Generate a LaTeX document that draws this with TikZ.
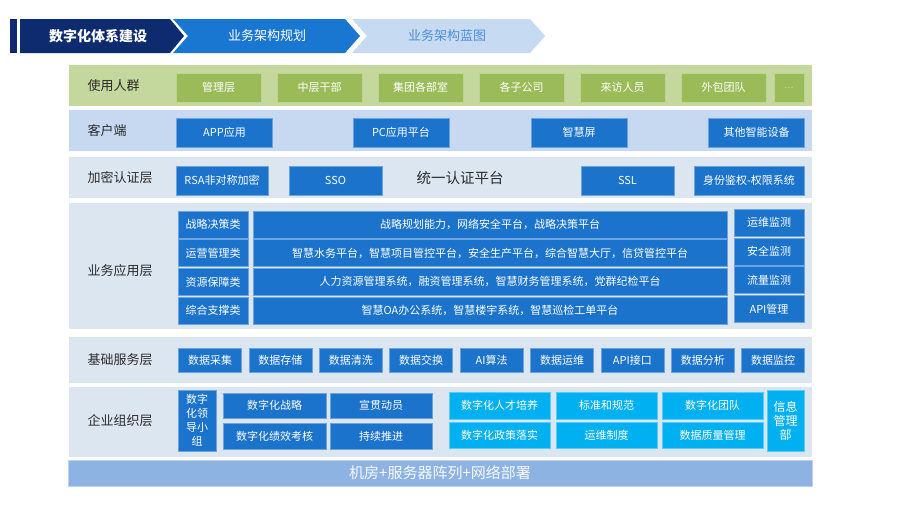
\documentclass[tikz,border=0pt]{standalone}
\usepackage{fontspec}
\setmainfont{Noto Sans CJK SC}
\definecolor{navy}{HTML}{0F2B6F}
\definecolor{stepblue}{HTML}{1A77D1}
\definecolor{steplight}{HTML}{C6DAF2}
\definecolor{steptext}{HTML}{4F8FD9}
\definecolor{cellblue}{HTML}{1B73CC}
\definecolor{cellgreen}{HTML}{9BBB59}
\definecolor{cellcyan}{HTML}{00B0F0}
\definecolor{panelgreen}{HTML}{C4D79C}
\definecolor{panelclient}{HTML}{C6D9F0}
\definecolor{panelgray}{HTML}{DCE6F1}
\definecolor{basebar}{HTML}{8DB3E2}
\definecolor{labeltext}{HTML}{2B2B2B}
\tikzset{
    layer panel/.style={fill=#1,inner sep=0pt,minimum width=743pt},
    layer label/.style={anchor=west,text=labeltext,font=\fontsize{13}{13}\selectfont},
    step text/.style={inner sep=0pt,font=\fontsize{13}{13}\selectfont},
    cell/.style={fill=#1,draw=#1!65!white,line width=0.6pt,text=white,inner sep=0pt,
        font=\fontsize{11}{11}\selectfont}
}

\begin{document}
\begin{tikzpicture}[x=1pt,y=-1pt]
\useasboundingbox[fill=white] (0,0) rectangle (900,506);

% ========= Steps =========
\fill[navy] (10,19) rectangle (17,53);
\fill[navy] (20,19) -- (170,19) -- (184,36) -- (170,53) -- (20,53) -- cycle;
\fill[stepblue] (173,19) -- (345,19) -- (360,36) -- (345,53) -- (173,53) -- (188,36) -- cycle;
\fill[steplight] (352,19) -- (530,19) -- (545,36) -- (530,53) -- (352,53) -- (367,36) -- cycle;
\node[step text,text=white,font=\fontsize{14}{14}\selectfont\bfseries] (S1) at (98,36) {数字化体系建设};
\node[step text,text=white] (S2) at (267,36) {业务架构规划};
\node[step text,text=steptext] (S3) at (447,36) {业务架构蓝图};

% ========= Layers =========
% == users ==%
\node[layer panel=panelgreen,minimum height=41pt] (users) at (440.5,85.5) {};
\node[layer label] (usersL) at (84,85.5) {使用人群};
\foreach \name [count=\i from 0] in {管理层,中层干部,集团各部室,各子公司,来访人员,外包团队}
{
    \node[cell=cellgreen,minimum width=85pt,minimum height=29pt] (U\i) at ({218.5+101*\i},87.5) {\name};
}
\node[cell=cellgreen,minimum width=30pt,minimum height=29pt,text=panelgreen] (U6) at (789,87.5) {...};

% == client ==%
\node[layer panel=panelclient,minimum height=41pt] (client) at (440.5,130.5) {};
\node[layer label] (clientL) at (84,130.5) {客户端};
\node[cell=cellblue,minimum width=96pt,minimum height=29pt] (C1) at (224.5,132.5) {APP应用};
\node[cell=cellblue,minimum width=96pt,minimum height=29pt] (C2) at (401,132.5) {PC应用平台};
\node[cell=cellblue,minimum width=96pt,minimum height=29pt] (C3) at (579,132.5) {智慧屏};
\node[cell=cellblue,minimum width=96pt,minimum height=29pt] (C4) at (756.5,132.5) {其他智能设备};

% == auth ==%
\node[layer panel=panelgray,minimum height=41pt] (auth) at (440.5,177.5) {};
\node[layer label] (authL) at (84,177.5) {加密认证层};
\node[cell=cellblue,minimum width=92pt,minimum height=29pt] (A1) at (222,180.5) {RSA非对称加密};
\node[cell=cellblue,minimum width=93pt,minimum height=29pt] (A2) at (335.5,180.5) {SSO};
\node[inner sep=0pt,text=labeltext,font=\fontsize{14.5}{14.5}\selectfont] (A3) at (460,178) {统一认证平台};
\node[cell=cellblue,minimum width=93pt,minimum height=29pt] (A4) at (627.5,180.5) {SSL};
\node[cell=cellblue,minimum width=110pt,minimum height=29pt] (A5) at (749,180.5) {身份鉴权-权限系统};

% == apps ==%
\node[layer panel=panelgray,minimum height=126pt] (apps) at (440.5,266) {};
\node[layer label] (appsL) at (84,271) {业务应用层};
\foreach \cat/\list [count=\i from 0] in {
    战略决策类/{战略规划能力，网络安全平台，战略决策平台},
    运营管理类/{智慧水务平台，智慧项目管控平台，安全生产平台，综合智慧大厅，信贷管控平台},
    资源保障类/{人力资源管理系统，融资管理系统，智慧财务管理系统，党群纪检平台},
    综合支撑类/{智慧OA办公系统，智慧楼宇系统，智慧巡检工单平台}}
{
    \node[cell=cellblue,minimum width=70pt,minimum height=27pt] (K\i) at (213,{224.5+28.7*\i}) {\cat};
    \node[cell=cellblue,minimum width=474pt,minimum height=27pt] (P\i) at (490,{224.5+28.7*\i}) {\list};
}
\foreach \mon [count=\i from 0] in {运维监测,安全监测,流量监测,API管理}
{
    \node[cell=cellblue,minimum width=70pt,minimum height=27pt] (M\i) at (769,{222.5+28.8*\i}) {\mon};
}

% == base ==%
\node[layer panel=panelgray,minimum height=46pt] (base) at (440.5,360) {};
\node[layer label] (baseL) at (84,360) {基础服务层};
\foreach \name [count=\i from 0] in {数据采集,数据存储,数据清洗,数据交换,AI算法,数据运维,API接口,数据分析,数据监控}
{
    \node[cell=cellblue,minimum width=63pt,minimum height=24pt] (B\i) at ({210+70.4*\i},360) {\name};
}

% == org ==%
\node[layer panel=panelgray,minimum height=70pt] (org) at (440.5,422) {};
\node[layer label] (orgL) at (84,421) {企业组织层};
\node[cell=cellblue,minimum width=38pt,minimum height=61pt,align=center,
    font=\fontsize{11}{14}\selectfont] (O0) at (197,420.5) {数字\\化领\\导小\\组};
\node[cell=cellblue,minimum width=103pt,minimum height=25pt] (O1) at (274.5,405.5) {数字化战略};
\node[cell=cellblue,minimum width=103pt,minimum height=26pt] (O2) at (274.5,436) {数字化绩效考核};
\node[cell=cellblue,minimum width=102pt,minimum height=25pt] (O3) at (381,405.5) {宣贯动员};
\node[cell=cellblue,minimum width=102pt,minimum height=26pt] (O4) at (381,436) {持续推进};
\node[cell=cellcyan,minimum width=101pt,minimum height=27pt] (O5) at (499.5,405.5) {数字化人才培养};
\node[cell=cellcyan,minimum width=101pt,minimum height=26pt] (O6) at (499.5,435) {数字化政策落实};
\node[cell=cellcyan,minimum width=101pt,minimum height=27pt] (O7) at (606.5,405.5) {标准和规范};
\node[cell=cellcyan,minimum width=101pt,minimum height=26pt] (O8) at (606.5,435) {运维制度};
\node[cell=cellcyan,minimum width=101pt,minimum height=27pt] (O9) at (712.5,405.5) {数字化团队};
\node[cell=cellcyan,minimum width=101pt,minimum height=26pt] (O10) at (712.5,435) {数据质量管理};
\node[cell=cellcyan,minimum width=37pt,minimum height=61pt,align=center,
    font=\fontsize{12}{14}\selectfont] (O11) at (785.5,420.5) {信息\\管理\\部};

% ========= Base bar =========
\node[fill=basebar,draw=basebar!60!white,line width=0.6pt,inner sep=0pt,minimum width=744pt,minimum height=26pt,
    text=white!92!basebar,font=\fontsize{15}{15}\selectfont] (room) at (440,473) {机房+服务器阵列+网络部署};

\end{tikzpicture}
\end{document}
